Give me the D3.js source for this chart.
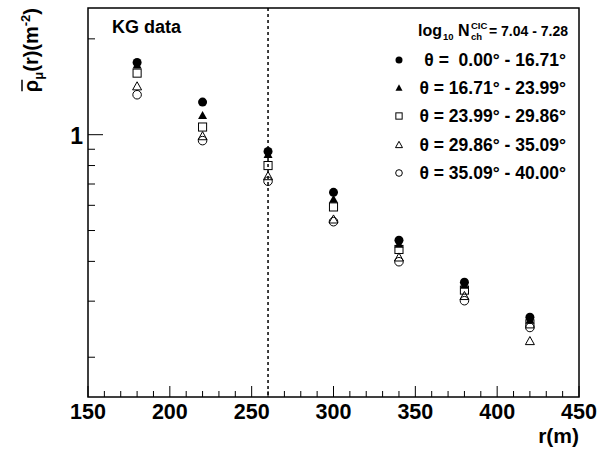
<!DOCTYPE html>
<html><head><meta charset="utf-8">
<script src="https://cdn.jsdelivr.net/npm/d3@7"></script>
<style>
body{margin:0;background:#fff;}
svg{display:block;font-family:"Liberation Sans",Arial,Helvetica,sans-serif;}
</style></head>
<body><svg id="c" width="598" height="451"></svg>
<script>
const radii = [180, 220, 260, 300, 340, 380, 420];
const series1 = [1.685, 1.266, 0.886, 0.659, 0.466, 0.344, 0.267]; // filled circle
const series2 = [1.655, 1.147, 0.866, 0.626, 0.452, 0.336, 0.261]; // filled triangle
const series3 = [1.561, 1.057, 0.800, 0.593, 0.436, 0.325, 0.2546]; // open square
const series4 = [1.417, 0.988, 0.740, 0.541, 0.411, 0.311, 0.2245]; // open triangle
const series5 = [1.335, 0.958, 0.714, 0.533, 0.399, 0.301, 0.248]; // open circle
const seriesLabels = ["\u03B8 =  0.00\u00B0 - 16.71\u00B0", "\u03B8 = 16.71\u00B0 - 23.99\u00B0",
  "\u03B8 = 23.99\u00B0 - 29.86\u00B0", "\u03B8 = 29.86\u00B0 - 35.09\u00B0", "\u03B8 = 35.09\u00B0 - 40.00\u00B0"];
const xTicks = [150, 200, 250, 300, 350, 400, 450];
const yMinorTicks = [0.2, 0.3, 0.4, 0.5, 0.6, 0.7, 0.8, 0.9, 2];
const yMajorTicks = [1];
const cutRadius = 260;

const svg = d3.select("#c");
const L = 88, R = 579, T = 8, B = 397;
const x = d3.scaleLinear().domain([150, 450]).range([L, R]);
const y = d3.scaleLog().domain([0.15, 2.5]).range([B, T]);

// frame
svg.append("rect").attr("x", L).attr("y", T).attr("width", R - L).attr("height", B - T)
  .attr("fill", "none").attr("stroke", "#000").attr("stroke-width", 1.5);

// x ticks
const xMinor = d3.range(160, 450, 10).filter(v => v % 50 !== 0);
svg.append("g").selectAll("line").data(xMinor).join("line")
  .attr("x1", d => x(d)).attr("x2", d => x(d)).attr("y1", B).attr("y2", B - 6)
  .attr("stroke", "#000").attr("stroke-width", 1);
svg.append("g").selectAll("line").data(xTicks).join("line")
  .attr("x1", d => x(d)).attr("x2", d => x(d)).attr("y1", B).attr("y2", B - 11)
  .attr("stroke", "#000").attr("stroke-width", 1);
svg.append("g").selectAll("text").data(xTicks).join("text")
  .attr("x", d => x(d)).attr("y", 419).attr("text-anchor", "middle")
  .attr("font-size", 21.5).attr("font-weight", "bold").text(d => d);
svg.append("text").attr("x", R).attr("y", 443).attr("text-anchor", "end")
  .attr("font-size", 21).attr("font-weight", "bold").text("r(m)");

// y ticks
svg.append("g").selectAll("line").data(yMinorTicks).join("line")
  .attr("x1", L).attr("x2", L + 7).attr("y1", d => y(d)).attr("y2", d => y(d))
  .attr("stroke", "#000").attr("stroke-width", 1);
svg.append("g").selectAll("line").data(yMajorTicks).join("line")
  .attr("x1", L).attr("x2", L + 15).attr("y1", d => y(d)).attr("y2", d => y(d))
  .attr("stroke", "#000").attr("stroke-width", 1);
svg.append("g").selectAll("text").data(yMajorTicks).join("text")
  .attr("x", 83).attr("y", d => y(d) + 9).attr("text-anchor", "end")
  .attr("font-size", 23).attr("font-weight", "bold").text(d => d);

// y title
const yt = svg.append("text").attr("transform", "translate(38,8) rotate(-90)")
  .attr("text-anchor", "end").attr("font-size", 20).attr("font-weight", "bold");
const rho = yt.append("tspan").text("\u03C1");
yt.append("tspan").attr("font-size", 13).attr("dy", 5).text("\u03BC");
yt.append("tspan").attr("dy", -5).text("(r)(m");
yt.append("tspan").attr("font-size", 13).attr("dy", -8).text("-2");
yt.append("tspan").attr("dy", 8).text(")");
// overline on rho
{
  const total = yt.node().getComputedTextLength();
  const rw = rho.node().getComputedTextLength();
  svg.append("line").attr("transform", "translate(38,8) rotate(-90)")
    .attr("x1", -total + 1).attr("x2", -total + rw).attr("y1", -16).attr("y2", -16)
    .attr("stroke", "#000").attr("stroke-width", 1.5);
}

// dashed line
svg.append("line").attr("x1", x(cutRadius)).attr("x2", x(cutRadius)).attr("y1", T).attr("y2", B)
  .attr("stroke", "#000").attr("stroke-width", 1.5).attr("stroke-dasharray", "3,3");

// markers
function marker(g, type, cx, cy, s) {
  if (type === 0) g.append("circle").attr("cx", cx).attr("cy", cy).attr("r", s).attr("fill", "#000");
  else if (type === 1) g.append("path").attr("d", `M${cx},${cy - s * 1.05}L${cx + s},${cy + s * 0.75}L${cx - s},${cy + s * 0.75}Z`).attr("fill", "#000");
  else if (type === 2) g.append("rect").attr("x", cx - s * 0.9).attr("y", cy - s * 0.9).attr("width", s * 1.8).attr("height", s * 1.8).attr("fill", "none").attr("stroke", "#000").attr("stroke-width", 1);
  else if (type === 3) g.append("path").attr("d", `M${cx},${cy - s * 1.05}L${cx + s},${cy + s * 0.75}L${cx - s},${cy + s * 0.75}Z`).attr("fill", "none").attr("stroke", "#000").attr("stroke-width", 1);
  else g.append("circle").attr("cx", cx).attr("cy", cy).attr("r", s * 0.95).attr("fill", "none").attr("stroke", "#000").attr("stroke-width", 1);
}
const allSeries = [series1, series2, series3, series4, series5];
const pg = svg.append("g");
[4, 3, 2, 1, 0].forEach(k => {
  allSeries[k].forEach((v, i) => marker(pg, k, x(radii[i]), y(v), 4.5));
});

// KG data
svg.append("text").attr("x", 112).attr("y", 33).attr("font-size", 18).attr("font-weight", "bold").text("KG data");

// legend header
const hg = svg.append("g").attr("font-weight", "bold");
const hy = 36;
hg.append("text").attr("x", 418).attr("y", hy).attr("font-size", 16).text("log");
hg.append("text").attr("x", 443).attr("y", hy + 4).attr("font-size", 9.5).text("10");
hg.append("text").attr("x", 458).attr("y", hy).attr("font-size", 16).text("N");
hg.append("text").attr("x", 471).attr("y", hy - 7).attr("font-size", 9.5).text("CIC");
hg.append("text").attr("x", 471).attr("y", hy + 4).attr("font-size", 9.5).text("ch");
hg.append("text").attr("x", 568).attr("y", hy).attr("text-anchor", "end").attr("font-size", 14).text("= 7.04 - 7.28");

// legend rows
const rowY = [60, 88, 116, 145, 173];
const lg = svg.append("g");
seriesLabels.forEach((lab, i) => {
  marker(lg, i, 399, rowY[i], 3.5);
  lg.append("text").attr("x", 566).attr("y", rowY[i] + 6).attr("font-size", 17.5).attr("text-anchor", "end")
    .attr("font-weight", "bold").attr("xml:space", "preserve").style("white-space", "pre").text(lab);
});
</script></body></html>
